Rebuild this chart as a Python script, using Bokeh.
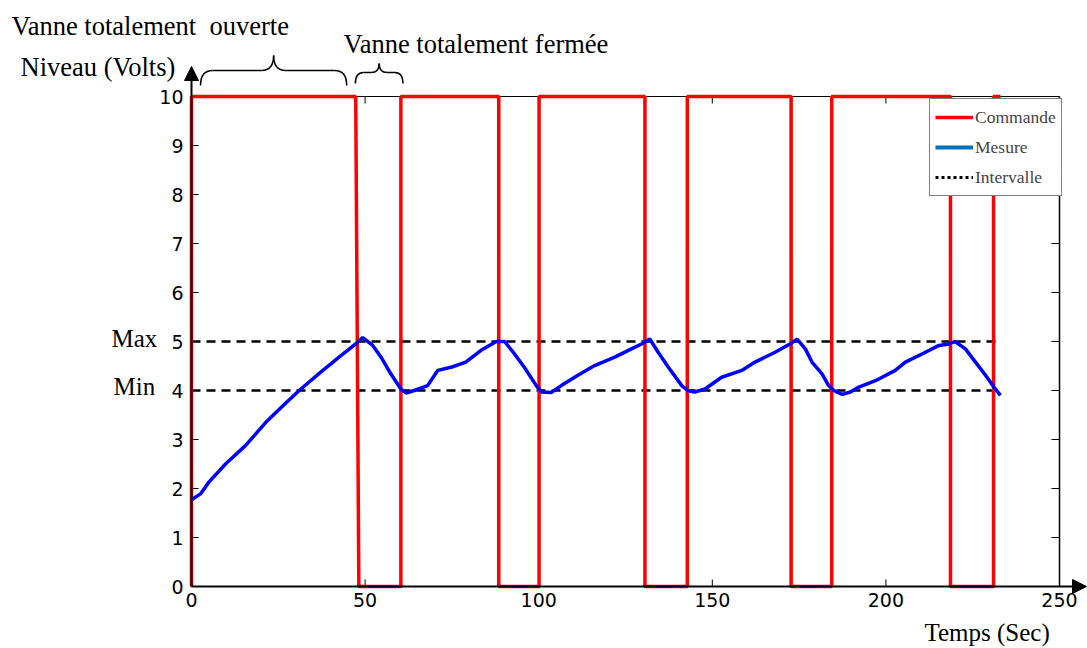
from bokeh.plotting import figure
from bokeh.models import (Range1d, Arrow, NormalHead, Legend, LegendItem)
from bokeh.core.properties import value
from bokeh.embed import file_html
from bokeh.resources import INLINE

# ---------------- data ----------------
commande_t = [0, 0, 47.3, 48.2, 60.3, 60.3, 88.5, 88.5, 100.1, 100.1,
              130.6, 130.6, 142.8, 142.8, 172.7, 172.7, 184.4, 184.4,
              218.6, 218.6, 231.0, 231.0, 233.0]
commande_v = [0, 10, 10, 0, 0, 10, 10, 0, 0, 10,
              10, 0, 0, 10, 10, 0, 0, 10,
              10, 0, 0, 10, 10]

mesure_t = [0, 2.6, 5.0, 9.8, 15.6, 21.4, 27.1, 31.0, 36.8, 42.5, 47.3, 49.3,
            52.2, 54.6, 57.4, 60.3, 61.8, 64.2, 68.0, 70.9, 75.0, 79.0, 83.4,
            87.8, 90.2, 93.0, 95.9, 99.3, 100.8, 103.6, 106.5, 111.3, 116.1,
            121.9, 126.7, 129.6, 132.0, 134.4, 137.3, 141.2, 143.1, 145.0,
            147.9, 152.7, 158.5, 162.3, 168.1, 172.9, 174.4, 176.8, 178.7,
            181.6, 183.5, 185.0, 187.4, 189.8, 192.2, 197.0, 202.7, 205.6,
            211.4, 215.3, 218.2, 219.9, 222.9, 225.8, 228.7, 231.1, 233.0]
mesure_v = [1.77, 1.89, 2.13, 2.50, 2.88, 3.35, 3.74, 4.00, 4.35, 4.68, 4.95, 5.08,
            4.92, 4.68, 4.34, 4.03, 3.95, 4.00, 4.10, 4.41, 4.48, 4.58, 4.82,
            5.00, 5.00, 4.75, 4.47, 4.10, 3.97, 3.96, 4.10, 4.31, 4.51,
            4.68, 4.85, 4.95, 5.05, 4.78, 4.48, 4.10, 3.99, 3.97,
            4.03, 4.27, 4.41, 4.58, 4.78, 4.97, 5.05, 4.85, 4.58,
            4.34, 4.10, 4.00, 3.92, 3.97, 4.07, 4.20, 4.41, 4.58,
            4.78, 4.92, 4.95, 5.00, 4.85, 4.58, 4.31, 4.07, 3.90]

intervalle_t = [0, 232.5]
intervalle_max = 5
intervalle_min = 4

x_ticks = [0, 50, 100, 150, 200, 250]
y_ticks = [0, 1, 2, 3, 4, 5, 6, 7, 8, 9, 10]
x_tick_labels = ["0", "50", "100", "150", "200", "250"]
y_tick_labels = ["0", "1", "2", "3", "4", "5", "6", "7", "8", "9", "10"]

# intervals marked with braces (open valve, closed valve)
brace_start = [2.6, 47.2]
brace_end = [44.7, 60.9]

# ---------------- layout helpers ----------------
W, H = 1087, 648
FL, FB = 191, 586          # pixel of the origin (x=0, y=0)
SX = 868 / 250.0           # px per second
SY = 49.0                  # px per volt

def X(px):
    return (px - FL) / SX

def Y(py):
    return (FB - py) / SY

p = figure(width=W, height=H, output_backend="svg", toolbar_location=None,
           x_range=Range1d(X(0), X(W)), y_range=Range1d(Y(H), Y(0)),
           x_axis_location=None, y_axis_location=None,
           min_border_left=0, min_border_right=0, min_border_top=0,
           min_border_bottom=0)
p.outline_line_color = None
p.grid.visible = False
p.background_fill_color = "white"
p.border_fill_color = "white"

# ---------------- axes drawn from tick arrays ----------------
TK = 7
# bottom ticks (inward) + labels
p.segment(x0=x_ticks, y0=[0] * len(x_ticks), x1=x_ticks, y1=[TK / SY] * len(x_ticks),
          line_color="black", line_width=1)
p.text(x=x_ticks, y=[-6 / SY] * len(x_ticks), text=x_tick_labels,
       text_font=value("DejaVu Sans"), text_font_size="19px", text_color="black",
       text_align="center", text_baseline="top")
# left ticks (inward) + labels
p.segment(x0=[0] * len(y_ticks), y0=y_ticks, x1=[TK / SX] * len(y_ticks), y1=y_ticks,
          line_color="black", line_width=1)
p.text(x=[-8 / SX] * len(y_ticks), y=y_ticks, text=y_tick_labels,
       text_font=value("DejaVu Sans"), text_font_size="19px", text_color="black",
       text_align="right", text_baseline="middle")

# box top and right with inward ticks
p.segment(x0=[0], y0=[10], x1=[250], y1=[10], line_color="black", line_width=1)
p.segment(x0=[250], y0=[0], x1=[250], y1=[10], line_color="black", line_width=1.5)
tx = [t for t in x_ticks if 0 < t < 250]
p.segment(x0=tx, y0=[10] * len(tx), x1=tx, y1=[10 - TK / SY] * len(tx),
          line_color="black", line_width=1)
ty = [v for v in y_ticks if 0 < v < 10]
p.segment(x0=[250] * len(ty), y0=ty, x1=[250 - 8 / SX] * len(ty), y1=ty,
          line_color="black", line_width=1)

# axis arrows
p.add_layout(Arrow(x_start=0, y_start=0, x_end=0, y_end=Y(66), line_width=2,
                   line_color="black",
                   end=NormalHead(size=14, fill_color="black", line_color="black")))
p.add_layout(Arrow(x_start=0, y_start=0, x_end=X(1086), y_end=0, line_width=2,
                   line_color="black",
                   end=NormalHead(size=14, fill_color="black", line_color="black")))

# interval lines
p.line(intervalle_t, [intervalle_max] * 2, line_color="black",
       line_width=2.5, line_dash="9 6")
p.line(intervalle_t, [intervalle_min] * 2, line_color="black",
       line_width=2.5, line_dash="9 6")

# command + measure
r_cmd = p.line(commande_t, commande_v, line_color="#FF0000", line_width=3.5)
p.line(mesure_t, mesure_v, line_color="#0000FF", line_width=3.5)

# legend (invisible-data glyphs used only for legend styling)
nan = float("nan")
r_leg_mes = p.line(x=[nan, nan], y=[nan, nan], line_color="#0072BD", line_width=4)
r_leg_int = p.line(x=[nan, nan], y=[nan, nan], line_color="black", line_width=3,
                   line_dash="3 3")
LEG_PAD, LEG_ROW, LEG_SP = 5, 26, 4
leg_h = 2 * LEG_PAD + 3 * LEG_ROW + 2 * LEG_SP
legend = Legend(items=[LegendItem(label="Commande", renderers=[r_cmd]),
                       LegendItem(label="Mesure", renderers=[r_leg_mes]),
                       LegendItem(label="Intervalle", renderers=[r_leg_int])],
                location=(929, H - 96 - leg_h - 4),
                border_line_color="black", border_line_width=1.5,
                background_fill_color="white", background_fill_alpha=1,
                label_text_font="Liberation Serif", label_text_font_size="17.5px",
                glyph_width=38, glyph_height=LEG_ROW, label_height=LEG_ROW,
                spacing=LEG_SP, padding=LEG_PAD, margin=0, label_standoff=2)
p.add_layout(legend)

# braces
brace_geom = [(Y(85), Y(70), Y(55), 12 / SX), (Y(83), Y(72), Y(63), 8 / SX)]
for xa, xb, (ye, yl, yp, r) in zip(brace_start, brace_end, brace_geom):
    xc = (xa + xb) / 2
    p.quadratic(x0=[xa, xc - r, xb, xc + r], y0=[ye, yl, ye, yl],
                x1=[xa + r, xc, xb - r, xc], y1=[yl, yp, yl, yp],
                cx=[xa, xc, xb, xc], cy=[yl, yl, yl, yl],
                line_color="black", line_width=1.5)
    p.segment(x0=[xa + r, xc + r], y0=[yl, yl], x1=[xc - r, xb - r], y1=[yl, yl],
              line_color="black", line_width=1.5)

# texts (vertically centred)
top_text = ["Vanne totalement\u00a0 ouverte", "Vanne totalement fermée",
            "Niveau (Volts)"]
top_px = [11, 343, 20]
top_py = [25, 43, 66]
p.text(x=[X(v) for v in top_px], y=[Y(v) for v in top_py], text=top_text,
       text_font=value("Liberation Serif"), text_font_size="26.5px",
       text_color="black", text_align="left", text_baseline="middle")

side_text = ["Max", "Min", "Temps (Sec)"]
side_px = [111, 113, 924]
side_py = [338, 386, 632]
p.text(x=[X(v) for v in side_px], y=[Y(v) for v in side_py], text=side_text,
       text_font=value("Liberation Serif"), text_font_size="25px",
       text_color="black", text_align="left", text_baseline="middle")

open("out.html", "w").write(file_html(p, INLINE))
